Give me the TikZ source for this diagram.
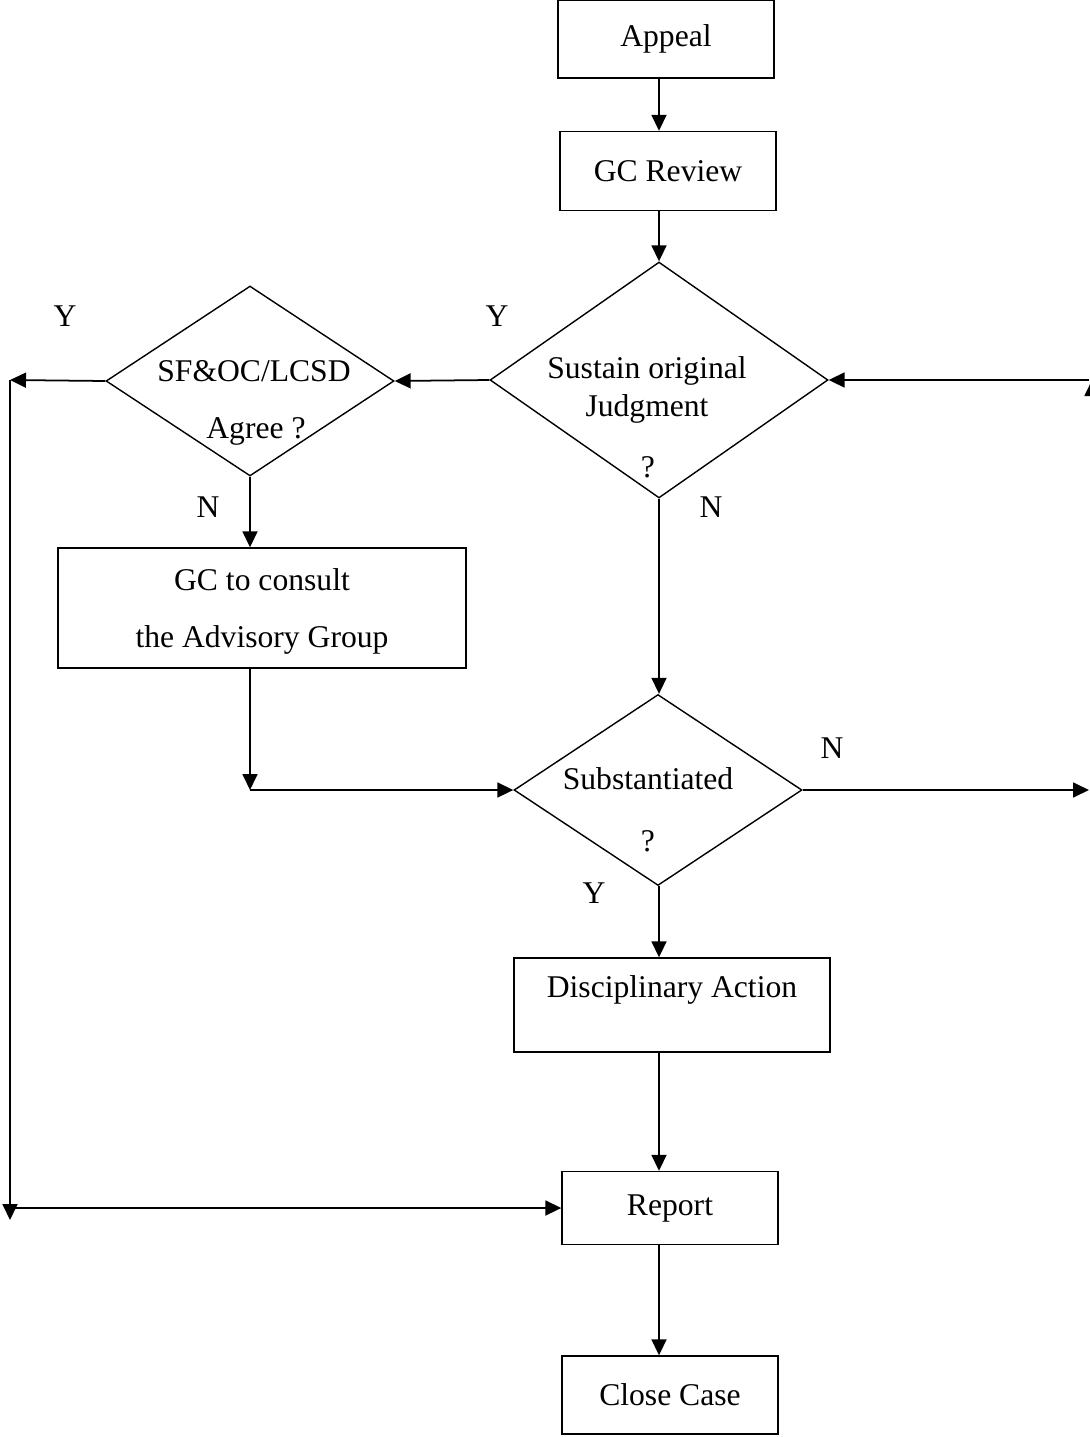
\documentclass[tikz,border=0pt]{standalone}
\usepackage{fontspec}
\setmainfont{Liberation Serif}
\usetikzlibrary{shapes.geometric,arrows.meta}

\tikzset{
  box/.style={rectangle, draw, line width=0.8pt, minimum width=4.32cm},
  decision/.style={diamond, draw, line width=0.8pt, inner sep=0pt},
  arr/.style={-{Triangle[length=0.32cm,width=0.3cm]}, line width=1pt}
}

\begin{document}
\begin{tikzpicture}[x=0.02cm, y=-0.02cm, font=\fontsize{18pt}{22pt}\selectfont]
\useasboundingbox (0,0) rectangle (1089,1437);

% boxes
\node[box, minimum height=1.56cm] (appeal) at (666,39) {Appeal};
\node[box, minimum height=1.58cm] (review) at (668,171) {GC Review};
\node[box, minimum width=8.16cm, minimum height=2.4cm] (consult) at (262,608) {};
\node (con1) at (262,580) {GC to consult};
\node (con2) at (262,640) {the Advisory Group};
\node[box, minimum width=6.32cm, minimum height=1.88cm] (disc) at (672,1005) {};
\node (disct) at (672,990) {Disciplinary Action};
\node[box, minimum height=1.46cm] (report) at (670,1208) {Report};
\node[box, minimum height=1.56cm] (close) at (670,1395) {Close Case};

% decisions
\node[decision, minimum width=6.76cm, minimum height=4.72cm] (sustain) at (659,380) {};
\node (sus1) at (647,371) {Sustain original};
\node (sus2) at (647,409) {Judgment};
\node (sus3) at (648,467) {?};
\node[decision, minimum width=5.76cm, minimum height=3.8cm] (agree) at (250,381) {};
\node (agr1) at (254,371) {SF\&OC/LCSD};
\node (agr2) at (256,431) {Agree ?};
\node[decision, minimum width=5.76cm, minimum height=3.82cm] (subst) at (658,790) {};
\node (sub1) at (648,779) {Substantiated};
\node (sub2) at (648,841) {?};

% labels
\node (y1) at (65,316) {Y};
\node (y2) at (497,316) {Y};
\node (n1) at (208,507) {N};
\node (n2) at (711,507) {N};
\node (n3) at (832,748) {N};
\node (y3) at (594,893) {Y};

\coordinate (lt) at (10,380);
\coordinate (lb) at (10,1220);
\coordinate (lh) at (10,1208);
\coordinate (join) at (250,790);
\coordinate (rb) at (1089,790);
\coordinate (rv) at (1092,790);
\coordinate (rt) at (1092,380);
\coordinate (rs) at (1089,380);

% connectors
\draw[arr] (appeal.south -| sustain) -- (review.north -| sustain);
\draw[arr] (review.south -| sustain) -- (sustain.north);
\draw[arr] (sustain.west) -- (agree.east);
\draw[arr] (agree.west) -- (lt);
\draw[arr] (lt) -- (lb);
\draw[arr] (lh) -- (report.west);
\draw[arr] (agree.south) -- (agree.south |- consult.north);
\draw[arr] (consult.south -| agree) -- (join);
\draw[arr] (join) -- (subst.west);
\draw[arr] (sustain.south) -- (subst.north -| sustain.south);
\draw[arr] (subst.east) -- (rb);
\draw[arr] (rv) -- (rt);
\draw[arr] (rs) -- (sustain.east);
\draw[arr] (subst.south -| sustain.south) -- (disc.north -| sustain.south);
\draw[arr] (disc.south -| sustain.south) -- (report.north -| sustain.south);
\draw[arr] (report.south -| sustain.south) -- (close.north -| sustain.south);
\end{tikzpicture}
\end{document}
